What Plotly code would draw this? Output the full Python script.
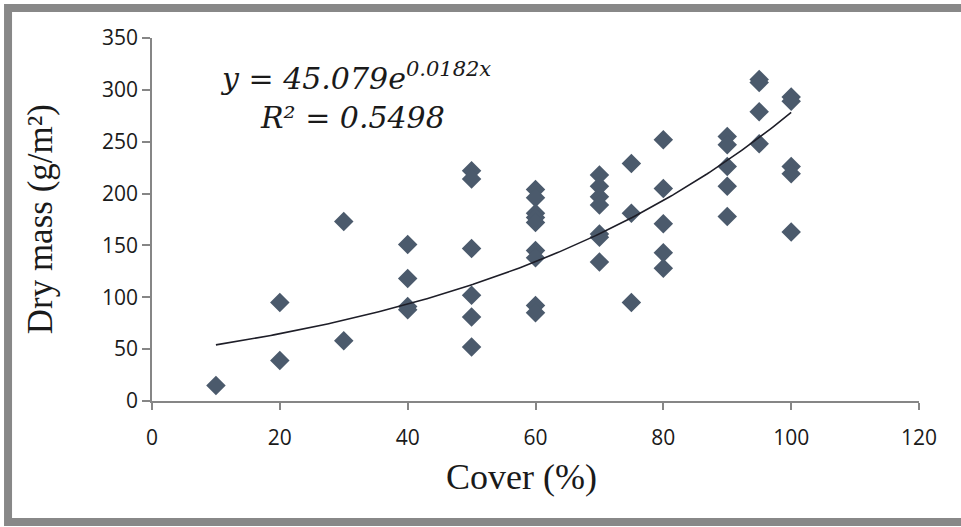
import numpy as np
import plotly.graph_objects as go

# Plant cover (%) and dry mass (g/m²) per sampled plot
cover = [10,
         20, 20,
         30, 30,
         40, 40, 40, 40,
         50, 50, 50, 50, 50, 50,
         60, 60, 60, 60, 60, 60, 60, 60, 60,
         70, 70, 70, 70, 70, 70, 70,
         75, 75, 75,
         80, 80, 80, 80, 80,
         90, 90, 90, 90, 90,
         95, 95, 95, 95,
         100, 100, 100, 100, 100]
dry_mass = [15,
            95, 39,
            173, 58,
            151, 118, 91, 88,
            222, 214, 147, 102, 81, 52,
            204, 196, 181, 177, 172, 145, 138, 92, 85,
            218, 207, 197, 189, 161, 158, 134,
            229, 181, 95,
            252, 205, 171, 143, 128,
            255, 247, 226, 207, 178,
            310, 307, 279, 248,
            293, 289, 226, 219, 163]

# Exponential trend fitted to the points: y = a * exp(b * x)
fit_a = 45.079
fit_b = 0.0182
fit_r2 = 0.5498

x_ticks = [0, 20, 40, 60, 80, 100, 120]
y_ticks = [0, 50, 100, 150, 200, 250, 300, 350]

trend_x = np.linspace(min(cover), max(cover), 200)
trend_y = fit_a * np.exp(fit_b * trend_x)

axis_grey = "#868686"
marker_col = "#4b5a6c"

fig = go.Figure()
fig.add_trace(go.Scatter(
    x=cover, y=dry_mass, mode="markers",
    marker=dict(symbol="diamond", size=15, color=marker_col,
                line=dict(width=0)),
    showlegend=False, hoverinfo="x+y"))
fig.add_trace(go.Scatter(
    x=trend_x, y=trend_y, mode="lines",
    line=dict(color="#1e1e28", width=1.6),
    showlegend=False, hoverinfo="skip"))

tick_font = dict(family="Open Sans", size=21, color="#1a1a1a")
fig.update_xaxes(range=[0, 120], tickvals=x_ticks, showgrid=False,
                 zeroline=False, showline=True, linecolor=axis_grey,
                 linewidth=1.5, ticks="outside", ticklen=7,
                 tickcolor=axis_grey, tickwidth=1.5, tickfont=tick_font,
                 ticklabelstandoff=10)
fig.update_yaxes(range=[0, 350], tickvals=y_ticks, showgrid=False,
                 zeroline=False, showline=True, linecolor=axis_grey,
                 linewidth=1.5, ticks="outside", ticklen=8,
                 tickcolor=axis_grey, tickwidth=1.5, tickfont=tick_font,
                 ticklabelstandoff=0)

serif = "Liberation Serif"
eq_font = dict(family="DejaVu Serif", size=30, color="#1a1a1a")
fig.update_layout(
    width=961, height=527,
    margin=dict(l=152, r=42, t=38, b=126),
    paper_bgcolor="white", plot_bgcolor="white",
    annotations=[
        dict(text="Dry mass (g/m²)", xref="paper", yref="paper",
             x=-0.145, y=0.5, textangle=-90, showarrow=False,
             xanchor="center", yanchor="middle",
             font=dict(family=serif, size=35, color="#1a1a1a")),
        dict(text="Cover (%)", xref="paper", yref="paper",
             x=0.482, y=-0.209, showarrow=False,
             xanchor="center", yanchor="middle",
             font=dict(family=serif, size=36, color="#1a1a1a")),
        dict(text=f"<i>y = {fit_a:.3f}e<sup>{fit_b}x</sup></i>",
             xref="paper", yref="paper", x=0.086, y=0.895,
             xanchor="left", yanchor="middle", showarrow=False,
             font=eq_font),
        dict(text=f"<i>R² = {fit_r2}</i>",
             xref="paper", yref="paper", x=0.138, y=0.78,
             xanchor="left", yanchor="middle", showarrow=False,
             font=eq_font),
    ],
    shapes=[
        dict(type="rect", xref="paper", yref="paper",
             x0=-0.1877, x1=1.08, y0=-0.3333, y1=1.0826,
             line=dict(color="#888888", width=8), layer="below"),
    ],
)

fig.write_html("out.html")
